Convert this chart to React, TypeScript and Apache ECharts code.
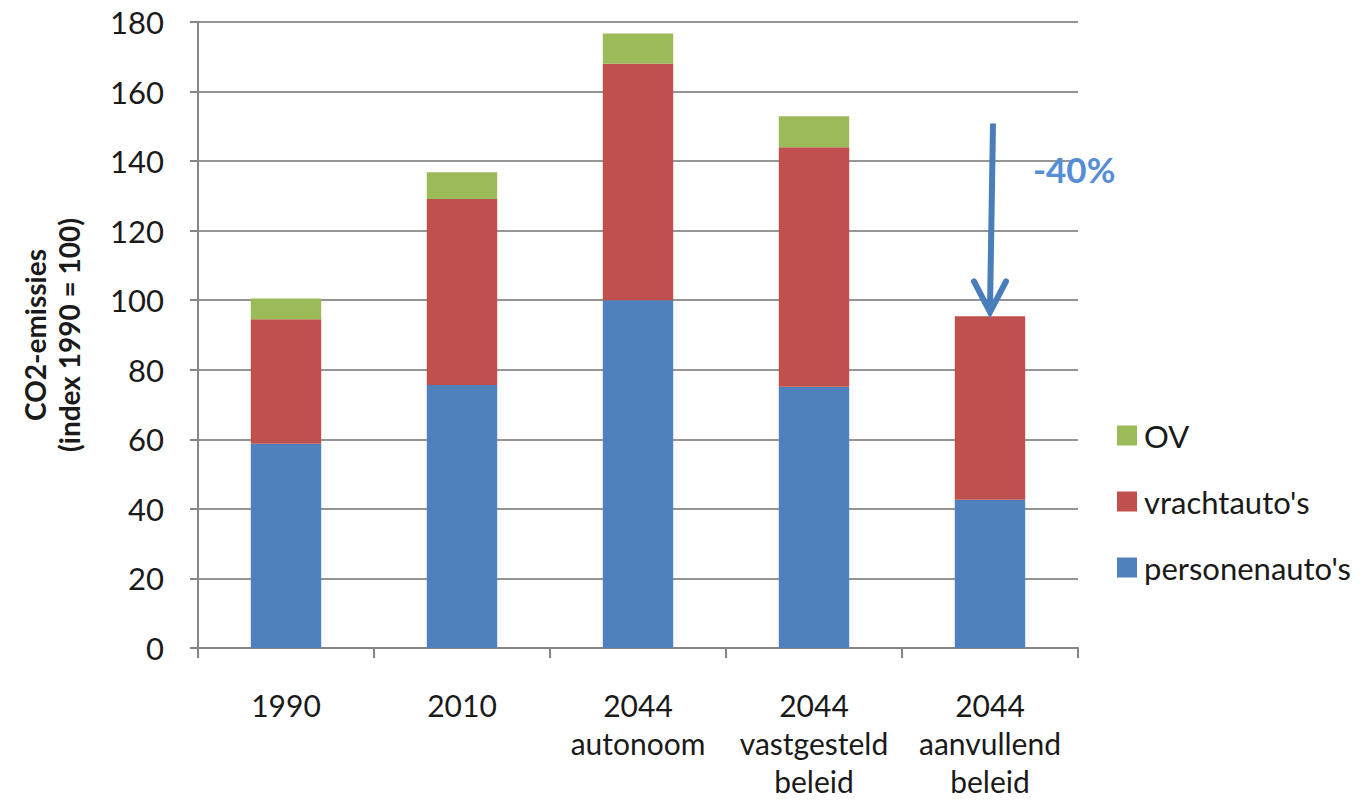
import React, { useEffect, useRef } from "react";
import * as echarts from "echarts";

const categories = ["1990", "2010", "2044\nautonoom", "2044\nvastgesteld\nbeleid", "2044\naanvullend\nbeleid"];
const personenautos = [58.7, 75.6, 100, 75.1, 42.6];
const vrachtautos = [35.8, 53.5, 68.0, 68.9, 52.8];
const ov = [6.0, 7.7, 8.7, 8.9, 0];
const yTicks = { min: 0, max: 180, interval: 20 };
// annotation: arrow on the last category, from value to value
const arrowCategory = 4;
const arrowFrom = 150.8;
const arrowTo = 96.6;
const arrowHeadBase = 105.4;
const annotationLabel = "-40%";
const annotationValue = 137.6;

const FONT = "Lato";

export default function App() {
  const ref = useRef<HTMLDivElement>(null);
  useEffect(() => {
    if (!ref.current) return;
    const chart = echarts.init(ref.current, null, { renderer: "svg" });
    const axisGray = "#868686";
    chart.setOption({
      animation: false,
      backgroundColor: "#ffffff",
      textStyle: { fontFamily: FONT, color: "#1a1a1a" },
      grid: { left: 198, right: 285, top: 22, bottom: 152, outerBoundsMode: "none" },
      legend: {
        orient: "vertical",
        left: 1112,
        top: 415,
        itemWidth: 20,
        itemHeight: 20,
        itemGap: 35,
        icon: "rect",
        data: ["OV", "vrachtauto's", "personenauto's"],
        textStyle: { fontFamily: FONT, fontSize: 31, color: "#1a1a1a", padding: [0, 0, 0, 2] },
      },
      xAxis: {
        type: "category",
        data: categories,
        axisLine: { show: true, lineStyle: { color: axisGray, width: 2 } },
        axisTick: { show: true, length: 10, lineStyle: { color: axisGray, width: 2 } },
        axisLabel: {
          fontFamily: FONT,
          fontSize: 30,
          lineHeight: 38,
          color: "#1a1a1a",
          margin: 38,
          interval: 0,
        },
      },
      yAxis: {
        type: "value",
        min: yTicks.min,
        max: yTicks.max,
        interval: yTicks.interval,
        name: "CO2-emissies\n(index 1990 = 100)",
        nameLocation: "middle",
        nameGap: 112,
        nameRotate: 90,
        nameTextStyle: { fontFamily: FONT, fontSize: 28, fontWeight: "bold", lineHeight: 34, color: "#1a1a1a" },
        axisLine: { show: true, lineStyle: { color: axisGray, width: 2 } },
        axisTick: { show: true, length: 8, lineStyle: { color: axisGray, width: 2 } },
        axisLabel: { fontFamily: FONT, fontSize: 31, color: "#1a1a1a", margin: 34 },
        splitLine: { show: true, lineStyle: { color: "#959595", width: 2 } },
      },
      series: [
        {
          name: "personenauto's",
          type: "bar",
          stack: "total",
          data: personenautos,
          barCategoryGap: "60%",
          itemStyle: { color: "#4F81BD" },
        },
        {
          name: "vrachtauto's",
          type: "bar",
          stack: "total",
          data: vrachtautos,
          itemStyle: { color: "#C0504D" },
        },
        {
          name: "OV",
          type: "bar",
          stack: "total",
          data: ov,
          itemStyle: { color: "#9BBB59" },
        },
      ],
    });

    const p0 = chart.convertToPixel({ seriesIndex: 0 }, [arrowCategory, arrowFrom]) as number[];
    const p1 = chart.convertToPixel({ seriesIndex: 0 }, [arrowCategory, arrowTo]) as number[];
    const pb = chart.convertToPixel({ seriesIndex: 0 }, [arrowCategory, arrowHeadBase]) as number[];
    const pt = chart.convertToPixel({ seriesIndex: 0 }, [arrowCategory, annotationValue]) as number[];
    const arrowColor = "#4A7EBB";
    chart.setOption({
      graphic: [
        {
          type: "line",
          shape: { x1: p0[0] + 3, y1: p0[1], x2: p1[0], y2: p1[1] - 3 },
          style: { stroke: arrowColor, lineWidth: 6 },
          z: 100,
        },
        {
          type: "polyline",
          shape: { points: [[pb[0] - 16, pb[1]], [p1[0], p1[1]], [pb[0] + 16, pb[1]]] },
          style: { stroke: arrowColor, lineWidth: 6, fill: null, lineJoin: "miter", lineCap: "round" },
          z: 100,
        },
        {
          type: "text",
          x: pt[0] + 43,
          y: pt[1],
          style: {
            text: annotationLabel,
            font: `bold 35px ${FONT}`,
            fill: "#558ED5",
            verticalAlign: "middle",
            align: "left",
          },
          z: 100,
        },
      ],
    });
    return () => chart.dispose();
  }, []);
  return <div ref={ref} style={{ position: "fixed", left: 0, top: 0, width: 1363, height: 800 }} />;
}
